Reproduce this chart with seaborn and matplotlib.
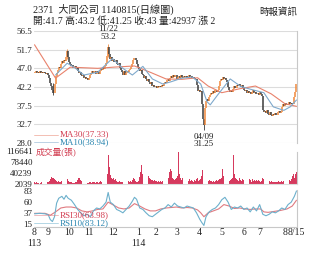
import numpy as np
import pandas as pd
import matplotlib
matplotlib.use("Agg")
import matplotlib.pyplot as plt
import seaborn as sns
from matplotlib.lines import Line2D

# ---------------- data ----------------
first_open = 45.8
closes = [
    46.0, 46.3, 45.8, 46.1, 45.9, 46.2, 45.7, 46.0, 45.8, 46.1,
    45.9, 45.6, 45.8, 45.2, 44.6, 43.2, 42.6, 41.4, 40.6, 43.0,
    45.0, 45.8, 46.6, 47.4, 47.0, 48.2, 48.8, 48.4, 49.2, 48.9,
    50.0, 51.5, 49.8, 48.6, 48.0, 47.6, 47.9, 47.2, 47.5, 46.8,
    47.0, 46.2, 45.8, 46.1, 45.4, 45.0, 45.3, 44.6, 44.9, 44.2,
    44.6, 44.0, 44.5, 45.2, 45.8, 46.3, 45.9, 46.2, 45.6, 46.4,
    46.0, 45.6, 46.3, 47.0, 46.5, 47.4, 46.8, 47.6, 48.4, 50.2,
    52.4, 50.6, 49.4, 49.8, 48.8, 49.4, 48.6, 49.2, 48.2, 47.8,
    48.4, 47.2, 46.5, 46.0, 45.4, 46.2, 45.2, 45.8, 46.4, 46.0,
    46.6, 46.8, 47.4, 48.2, 49.0, 49.6, 49.2, 48.0, 47.4, 46.8,
    46.2, 46.6, 45.6, 45.2, 44.6, 45.0, 44.2, 43.8, 44.2, 43.4,
    43.0, 43.4, 42.6, 42.8, 42.2, 42.6, 42.0, 42.4, 42.2, 42.6,
    42.3, 42.8, 42.4, 43.2, 43.6, 43.2, 44.0, 44.4, 43.8, 44.6,
    45.0, 44.6, 45.4, 44.8, 45.2, 44.2, 44.8, 45.0, 44.6, 45.2,
    44.8, 44.5, 45.0, 44.7, 45.1, 44.6, 44.9, 45.2, 44.8, 45.0,
    44.6, 44.9, 44.5, 44.2, 42.8, 41.2, 41.6, 40.9, 41.3, 38.0,
    34.0, 32.6, 36.8, 38.6, 39.2, 38.8, 39.6, 40.2, 40.8, 40.4,
    41.2, 40.8, 41.4, 41.0, 41.6, 42.4, 43.8, 44.4, 44.0, 44.8,
    44.3, 44.6, 44.0, 43.6, 42.2, 41.4, 41.0, 41.4, 41.1, 41.8,
    42.4, 42.0, 42.8, 42.4, 43.0, 42.6, 42.2, 42.8, 42.0, 41.6,
    41.2, 41.6, 40.8, 41.3, 40.6, 41.0, 40.4, 40.9, 41.4, 40.6,
    41.0, 40.5, 40.8, 40.2, 41.1, 40.4, 40.0, 36.4, 35.8, 36.2,
    35.6, 36.3, 35.4, 35.0, 35.8, 35.2, 34.8, 35.4, 35.0, 35.6,
    35.2, 35.8, 36.2, 35.6, 36.0, 37.2, 37.8, 37.4, 38.2, 37.6,
    38.0, 37.6, 38.4, 37.8, 38.2, 37.9, 38.0, 39.6, 41.0, 43.0,
]
wick_idx = [18, 31, 70, 161]
wick_low = [40.2, 49.5, 50.0, 31.25]
wick_high = [43.2, 52.0, 53.2, 34.2]

volumes = [
    8200, 6500, 9400, 7100, 5800, 2039, 6200, 7400, 9900, 6800,
    7600, 5400, 8100, 9200, 12500, 18400, 26100, 22300, 24800, 19700,
    15200, 11800, 9600, 12400, 10200, 8700, 13600, 9800, 11200, 8400,
    14800, 19600, 12200, 9100, 7800, 8600, 6900, 7300, 6400, 7900,
    9800, 16400, 21800, 24600, 17200, 12400, 9300, 7600, 8200, 6700,
    7100, 6300, 8400, 7800, 6900, 9100, 7400, 8800, 6200, 7600,
    8300, 7100, 9500, 12200, 8600, 14300, 10800, 17600, 21400, 38600,
    104500, 62300, 33800, 24600, 18900, 21800, 15400, 19200, 12600, 10800,
    9400, 11600, 8800, 10200, 9600, 12800, 8400, 9900, 11200, 13400,
    10600, 12800, 9400, 16200, 22400, 18600, 13800, 10200, 9600, 12400,
    28400, 45600, 68200, 38900, 52400, 34600, 41800, 26800, 31200, 22600,
    18400, 14600, 16800, 12200, 15400, 11800, 13600, 10400, 12800, 9600,
    11200, 9800, 12400, 10600, 14200, 12800, 18600, 24200, 42600, 53800,
    46200, 22400, 18800, 15600, 20200, 24800, 31600, 116641, 36400, 21800,
    16200, 24600, 12800, 19400, 14200, 22800, 11600, 18200, 13400, 16800,
    12200, 10800, 14600, 11400, 18800, 21600, 14200, 16600, 19800, 31200,
    49800, 38200, 24600, 18400, 14800, 12600, 16200, 11800, 13400, 10200,
    12800, 9600, 11400, 14600, 12200, 16800, 21400, 18600, 24200, 56400,
    28600, 18200, 15800, 12400, 14600, 11200, 16400, 18800, 22600, 104800,
    38400, 24200, 19600, 16800, 14200, 21800, 15400, 12600, 18200, 14800,
    11600, 13800, 16400, 12200, 18600, 14400, 10800, 19200, 13200, 16600,
    12400, 14800, 11200, 17800, 13600, 10400, 12200, 22600, 18400, 14200,
    11800, 13200, 10600, 12400, 9800, 11600, 10200, 8600, 9400, 10800,
    8200, 9600, 11400, 8800, 10200, 12600, 9400, 11200, 14800, 32400,
    18600, 24200, 16800, 13400, 21200, 28800, 36400, 24600, 38200, 42937,
]

ma30_idx = [0, 20, 34, 60, 75, 95, 110, 125, 140, 155, 165, 178, 195, 210, 225, 238, 249]
ma30_val = [53, 44.5, 47.3, 47, 47.3, 47.6, 46, 44.3, 44.2, 44.6, 42.5, 40.8, 41.8, 42.5, 40.5, 38, 37.33]
ma10_idx = [20, 31, 37, 47, 60, 74, 84, 93, 103, 112, 122, 130, 140, 150, 158, 164, 167, 174, 186, 196,
            205, 218, 227, 237, 243, 249]
ma10_val = [45.3, 48.3, 47.4, 45.3, 46, 49.5, 47, 45.3, 47.5, 44.3, 43, 43.6, 44.5, 44.8, 43, 38.5, 37.7,
            40.2, 44.3, 42.4, 41.7, 40.8, 37.2, 36.3, 37.2, 38.94]

rsi10_idx = [0, 5, 10, 13, 15, 17, 19, 21, 23, 26, 28, 30, 32, 35, 38, 41, 44, 47, 50, 53,
             56, 59, 62, 65, 68, 70, 72, 75, 78, 81, 84, 87, 90, 93, 95, 97, 100, 103, 106, 109,
             112, 115, 118, 121, 124, 127, 130, 133, 136, 139, 142, 145, 148, 151, 154, 157, 159, 161, 163, 166,
             169, 172, 175, 178, 181, 184, 187, 190, 193, 196, 199, 202, 205, 208, 211, 214, 217, 220, 223, 226,
             229, 232, 235, 238, 241, 244, 247, 249]
rsi10_val = [36, 37, 36, 34, 24, 20, 30, 58, 68, 72, 66, 74, 68, 64, 55, 45, 38, 32, 35, 30,
             42, 48, 46, 52, 60, 80, 60, 55, 45, 42, 38, 45, 52, 62, 70, 66, 48, 45, 38, 32,
             30, 35, 40, 45, 48, 55, 50, 58, 52, 50, 48, 52, 50, 48, 38, 25, 18, 12, 30, 40,
             45, 48, 55, 65, 70, 60, 45, 50, 48, 52, 45, 48, 40, 50, 42, 55, 35, 32, 35, 40,
             38, 42, 48, 45, 55, 60, 72, 83.12]
rsi30_idx = [0, 10, 15, 20, 25, 30, 35, 40, 45, 50, 55, 60, 65, 70, 75, 80, 85, 90, 95, 100,
             105, 110, 115, 120, 125, 130, 135, 140, 145, 150, 155, 158, 161, 165, 170, 175, 180, 185, 190, 195,
             200, 205, 210, 215, 218, 222, 228, 234, 240, 245, 249]
rsi30_val = [37, 37, 33, 40, 48, 50, 50, 48, 42, 40, 42, 45, 46, 60, 54, 48, 46, 48, 57, 52,
             46, 42, 42, 46, 48, 49, 50, 48, 49, 48, 44, 38, 30, 38, 42, 46, 55, 52, 47, 48,
             46, 45, 46, 46, 40, 39, 41, 43, 46, 52, 63.98]

price_ticks = [28.0, 32.75, 37.5, 42.25, 47.0, 51.75, 56.5]
price_tick_labels = ["28.0", "32.7", "37.5", "42.2", "47.0", "51.7", "56.5"]
vol_ticks = [2039, 40239, 78440, 116641]
vol_tick_labels = ["2039", "40239", "78440", "116641"]
rsi_ticks = [15, 37.67, 60.33, 83]
rsi_tick_labels = ["15", "37", "60", "83"]
month_idx = [0, 13, 33, 52, 75, 99, 115, 135, 157, 178, 199, 214, 238, 249]
month_labels = ["8", "9", "10", "11", "12", "1", "2", "3", "4", "5", "6", "7", "8", "8/15"]
year_idx = [0, 99]
year_labels = ["113", "114"]

title_text = "2371  大同公司 1140815(日線圖)"
info_text = "開:41.7 高:43.2 低:41.25 收:43 量:42937 漲 2"
source_text = "時報資訊"

# ---------------- style ----------------
sns.set_theme(style="white")
FONT = ['Liberation Serif', 'Noto Sans CJK TC', 'DejaVu Sans']
plt.rcParams['font.family'] = FONT

UP = "#f0883a"
DOWN = "#3a3a3a"
MA30_C = "#e9826c"
MA10_C = "#7fa9cc"
MA30_T = "#d23c50"
MA10_T = "#2a86b0"
VOL_C = "#d63a5e"
RSI30_C = "#e07a80"
RSI10_C = "#6cb0cc"
GRID = "#dcdcdc"
FRAME = "#c8c8c8"
TXT = "#222222"

W, H = 330, 254
fig = plt.figure(figsize=(W / 100, H / 100), dpi=100)


def box(x0, y0, x1, y1):
    return [x0 / W, 1 - y1 / H, (x1 - x0) / W, (y1 - y0) / H]


axp = fig.add_axes(box(34, 31, 297, 143))
axv = fig.add_axes(box(34, 151.5, 297, 184))
axr = fig.add_axes(box(34, 189.5, 297, 227))

n = len(closes)
idx = np.arange(n)
xlim = (-0.5, n - 0.5)

# ---------------- price panel ----------------
opens = [first_open] + closes[:-1]
df = pd.DataFrame({"i": idx, "open": opens, "close": closes})
df["lo"] = df[["open", "close"]].min(axis=1)
df["hi"] = df[["open", "close"]].max(axis=1)
df["col"] = np.where(df["close"] >= df["open"], UP, DOWN)

for t in price_ticks:
    axp.axhline(t, color=GRID, lw=0.8, zorder=0)

wk = df.set_index("i")
for wi, wl, wh in zip(wick_idx, wick_low, wick_high):
    axp.vlines(wi, wl, wh, colors=wk.loc[wi, "col"], lw=0.6, zorder=2)
axp.vlines(df["i"], df["lo"], df["hi"], colors=df["col"], lw=1.1, zorder=2)

sns.lineplot(x=ma30_idx, y=ma30_val, ax=axp, color=MA30_C, lw=0.8, zorder=3)
sns.lineplot(x=ma10_idx, y=ma10_val, ax=axp, color=MA10_C, lw=0.8, zorder=3)

axp.set_xlim(*xlim)
axp.set_ylim(28, 56.5)
axp.set_yticks(price_ticks)
axp.set_yticklabels(price_tick_labels)
axp.set_xticks([])
axp.tick_params(axis="y", length=0, pad=1, labelsize=6.5, labelcolor=TXT)
for s in ["left", "bottom", "top"]:
    axp.spines[s].set_visible(False)
axp.spines["right"].set_color(FRAME)
axp.spines["right"].set_linewidth(0.8)
axp.set_xlabel("")
axp.set_ylabel("")

hi_i = wick_idx[2]
axp.annotate("53.2", xy=(hi_i, wick_high[2]), xytext=(0, 5), textcoords="offset points",
             ha="center", va="center", fontsize=6.5, color=TXT, annotation_clip=False)
axp.annotate("11/22", xy=(hi_i, wick_high[2]), xytext=(0, 10.8), textcoords="offset points",
             ha="center", va="center", fontsize=6.5, color=TXT, annotation_clip=False)
lo_i = wick_idx[3]
axp.annotate("04/09", xy=(lo_i, wick_low[3]), xytext=(0, -4.7), textcoords="offset points",
             ha="center", va="center", fontsize=6.5, color=TXT, annotation_clip=False)
axp.annotate("31.25", xy=(lo_i, wick_low[3]), xytext=(0, -10.2), textcoords="offset points",
             ha="center", va="center", fontsize=6.5, color=TXT, annotation_clip=False, zorder=10)

# ---------------- volume panel ----------------
axv.bar(idx, volumes, width=0.75, color=VOL_C, linewidth=0)
axv.set_xlim(*xlim)
axv.set_ylim(2039, 116641)
axv.set_yticks(vol_ticks)
axv.set_yticklabels(vol_tick_labels)
axv.set_xticks([])
axv.tick_params(axis="y", length=0, pad=1, labelsize=6.5, labelcolor=TXT)
for s in ["left", "top"]:
    axv.spines[s].set_visible(False)
axv.spines["bottom"].set_color(GRID)
axv.spines["bottom"].set_linewidth(0.8)
axv.spines["right"].set_color(FRAME)
axv.spines["right"].set_linewidth(0.8)

# ---------------- RSI panel ----------------
sns.lineplot(x=rsi30_idx, y=rsi30_val, ax=axr, color=RSI30_C, lw=0.8)
sns.lineplot(x=rsi10_idx, y=rsi10_val, ax=axr, color=RSI10_C, lw=0.8)
axr.set_xlim(*xlim)
axr.set_ylim(8.8, 86.1)
axr.set_yticks(rsi_ticks)
axr.set_yticklabels(rsi_tick_labels)
axr.set_xticks(month_idx)
axr.set_xticklabels(month_labels)
axr.tick_params(axis="y", length=0, pad=1, labelsize=6.5, labelcolor=TXT)
axr.tick_params(axis="x", length=0, pad=1, labelsize=7, labelcolor=TXT)
axr.spines["left"].set_visible(False)
axr.spines["top"].set_visible(False)
for s in ["bottom", "right"]:
    axr.spines[s].set_color(FRAME)
    axr.spines[s].set_linewidth(0.8)
axr.set_xlabel("")
axr.set_ylabel("")
ytr = matplotlib.transforms.blended_transform_factory(axr.transData, fig.transFigure)
for yi, yl in zip(year_idx, year_labels):
    axr.text(yi, 1 - 243.5 / H, yl, transform=ytr, ha="center", va="center",
             fontsize=7, color=TXT)

# ---------------- legends & headers ----------------
def legend_item(y, text, lc, tc):
    fig.add_artist(Line2D([34 / W, 58 / W], [1 - y / H, 1 - y / H], color=lc, lw=0.6, alpha=0.6))
    fig.text(60 / W, 1 - y / H, text, ha="left", va="center", fontsize=6.5, color=tc)


legend_item(134.5, "MA30(37.33)", MA30_C, MA30_T)
legend_item(142.3, "MA10(38.94)", MA10_C, MA10_T)
legend_item(215.0, "RSI30(63.98)", RSI30_C, MA30_T)
legend_item(223.0, "RSI10(83.12)", RSI10_C, MA10_T)
fig.text(36 / W, 1 - 153 / H, "成交量(張)", ha="left", va="center", fontsize=6.3, color=MA30_T)

fig.text(33 / W, 1 - 9 / H, title_text, ha="left", va="center", fontsize=7.3, color=TXT)
fig.text(33 / W, 1 - 21 / H, info_text, ha="left", va="center", fontsize=7.0, color=TXT)
fig.text(297 / W, 1 - 12 / H, source_text, ha="right", va="center", fontsize=6.8, color=TXT)

fig.savefig("out.png", dpi=100)
